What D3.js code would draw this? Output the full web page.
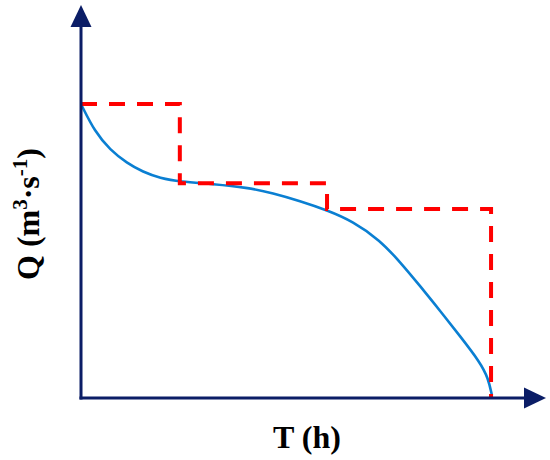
<!DOCTYPE html>
<html>
<head>
<meta charset="utf-8">
<script src="https://cdn.jsdelivr.net/npm/d3@7"></script>
<style>
  body { margin: 0; background: #fff; }
  svg { display: block; }
</style>
</head>
<body>
<div class="visHolder"></div>
<script>
// axis extents (arrow tips) in data units
const tMax = 11.34;
const qMax = 13.37;

// stepped design discharge: start of each step, last point closes it at T = 10
const stepT = [0, 2.41, 6.0, 10];
const stepQ = [10, 7.31, 6.43, 0];

// smooth observed hydrograph
const curveT = [0, 0.34, 0.71, 1.12, 1.51, 1.93, 2.41, 3.22, 4.05, 4.68, 5.34, 6.0, 6.63, 7.29, 7.78, 8.27, 8.76, 9.24, 9.73, 9.93, 10.02];
const curveQ = [10, 9.05, 8.44, 7.99, 7.69, 7.48, 7.36, 7.28, 7.16, 6.97, 6.7, 6.39, 6.01, 5.37, 4.63, 3.81, 2.96, 2.11, 1.22, 0.68, 0.1];

const width = 550;
const height = 460;
const axisColor = "#0b1d66";
const arrowLen = 22;
const arrowHalf = 10.5;

const svg = d3
  .select(".visHolder")
  .append("svg")
  .attr("width", width)
  .attr("height", height);

const xScale = d3.scaleLinear().domain([0, tMax]).range([81, 546]);
const yScale = d3.scaleLinear().domain([0, qMax]).range([398, 5]);

const stepData = d3.zip(stepT, stepQ);
const curveData = d3.zip(curveT, curveQ);

// blue curve
const line = d3
  .line()
  .x((d) => xScale(d[0]))
  .y((d) => yScale(d[1]))
  .curve(d3.curveBasis);

svg
  .append("path")
  .datum(curveData)
  .attr("d", line)
  .attr("fill", "none")
  .attr("stroke", "#0a7fd2")
  .attr("stroke-width", 2.6);

// red dashed steps
const stepLine = d3
  .line()
  .x((d) => xScale(d[0]))
  .y((d) => yScale(d[1]))
  .curve(d3.curveStepAfter);

svg
  .append("path")
  .datum(stepData)
  .attr("d", stepLine)
  .attr("fill", "none")
  .attr("stroke", "#ff0000")
  .attr("stroke-width", 4)
  .attr("stroke-dasharray", "16,12");

// axes without ticks, arrowheads drawn at the ends
const xAxis = d3.axisBottom(xScale).tickValues([]).tickSizeOuter(0);
const yAxis = d3.axisLeft(yScale).tickValues([]).tickSizeOuter(0);

svg
  .append("g")
  .attr("id", "x-axis")
  .attr("transform", `translate(0, ${yScale(0)})`)
  .call(xAxis)
  .select(".domain")
  .attr("stroke", axisColor)
  .attr("stroke-width", 3)
  .attr("d", `M${xScale(0) - 1.5},0H${xScale(tMax) - arrowLen + 1}`);

svg
  .append("g")
  .attr("id", "y-axis")
  .attr("transform", `translate(${xScale(0)}, 0)`)
  .call(yAxis)
  .select(".domain")
  .attr("stroke", axisColor)
  .attr("stroke-width", 3)
  .attr("d", `M0,${yScale(0) + 1.5}V${yScale(qMax) + arrowLen - 1}`);

const xTip = xScale(tMax);
const yTip = yScale(qMax);
const x0 = xScale(0);
const y0 = yScale(0);

svg
  .append("path")
  .attr("d", `M${xTip},${y0}L${xTip - arrowLen},${y0 - arrowHalf}L${xTip - arrowLen},${y0 + arrowHalf}Z`)
  .attr("fill", axisColor);

svg
  .append("path")
  .attr("d", `M${x0},${yTip}L${x0 - arrowHalf},${yTip + arrowLen}L${x0 + arrowHalf},${yTip + arrowLen}Z`)
  .attr("fill", axisColor);

// labels
const labelFont = "'Liberation Serif', 'Times New Roman', serif";

svg
  .append("text")
  .attr("x", 307)
  .attr("y", 448)
  .attr("text-anchor", "middle")
  .attr("font-family", labelFont)
  .attr("font-weight", "bold")
  .attr("font-size", 32)
  .attr("fill", "#000")
  .text("T (h)");

const yLabel = svg
  .append("text")
  .attr("transform", "translate(39, 214) rotate(-90)")
  .attr("text-anchor", "middle")
  .attr("font-family", labelFont)
  .attr("font-weight", "bold")
  .attr("font-size", 32)
  .attr("fill", "#000");

yLabel.append("tspan").text("Q (m");
yLabel.append("tspan").attr("dy", -12).attr("font-size", 21).text("3");
yLabel.append("tspan").attr("dy", 12).text("·s");
yLabel.append("tspan").attr("dy", -12).attr("font-size", 21).text("-1");
yLabel.append("tspan").attr("dy", 12).text(")");
</script>
</body>
</html>
